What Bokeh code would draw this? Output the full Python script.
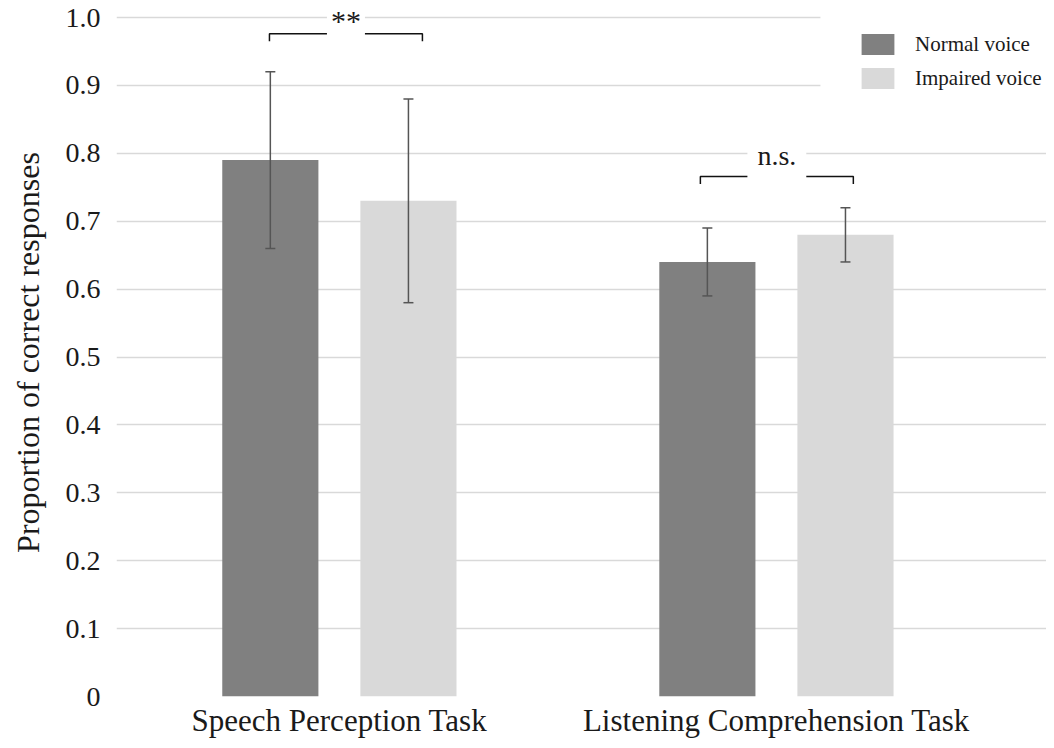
from bokeh.plotting import figure
from bokeh.models import (ColumnDataSource, Whisker, TeeHead, Legend, LegendItem,
                          Range1d, FixedTicker, Label, BoxAnnotation)
from bokeh.embed import file_html
from bokeh.resources import INLINE

# ---- data ----
categories = ["Speech Perception Task", "Listening Comprehension Task"]
series = ["Normal voice", "Impaired voice"]
normal_mean = [0.79, 0.64]
normal_lower = [0.66, 0.59]
normal_upper = [0.92, 0.69]
impaired_mean = [0.73, 0.68]
impaired_lower = [0.58, 0.64]
impaired_upper = [0.88, 0.72]
sig_labels = ["**", "n.s."]
yticks = [0, 0.1, 0.2, 0.3, 0.4, 0.5, 0.6, 0.7, 0.8, 0.9, 1.0]
ytick_labels = ["0", "0.1", "0.2", "0.3", "0.4", "0.5", "0.6", "0.7", "0.8", "0.9", "1.0"]

# ---- styles ----
FONT = "Times New Roman"
TXT = "#1a1a1a"
C_NORMAL = "#808080"
C_IMPAIRED = "#d9d9d9"
GRID = "#d9d9d9"
ERR = "#555555"
BAR_W = 0.22
OFF = 0.158

pos = list(range(len(categories)))

p = figure(width=1046, height=740, output_backend="svg", toolbar_location=None,
           x_range=Range1d(-0.51, 1.618), y_range=Range1d(0, 1.0133),
           min_border_left=116, min_border_right=0, min_border_top=8,
           min_border_bottom=44)
p.outline_line_color = None
p.background_fill_color = "white"
p.border_fill_color = "white"

src_n = ColumnDataSource(dict(x=[i - OFF for i in pos], top=normal_mean,
                              lo=normal_lower, hi=normal_upper))
src_i = ColumnDataSource(dict(x=[i + OFF for i in pos], top=impaired_mean,
                              lo=impaired_lower, hi=impaired_upper))

r_n = p.vbar(x="x", top="top", bottom=0, width=BAR_W, source=src_n,
             fill_color=C_NORMAL, line_color=None)
r_i = p.vbar(x="x", top="top", bottom=0, width=BAR_W, source=src_i,
             fill_color=C_IMPAIRED, line_color=None)

for s in (src_n, src_i):
    w = Whisker(source=s, base="x", lower="lo", upper="hi", dimension="height",
                line_color=ERR, line_width=1.5, level="annotation",
                upper_head=TeeHead(size=10, line_color=ERR, line_width=1.5),
                lower_head=TeeHead(size=10, line_color=ERR, line_width=1.5))
    p.add_layout(w)

# significance brackets
br_left = [-0.16, -0.174]
br_right = [0.19, 0.176]
br_y = [0.976, 0.766]
br_tick = 0.011
lab_y = [0.996, 0.797]
for i in pos:
    xl, xr = pos[i] + br_left[i], pos[i] + br_right[i]
    p.line([xl, xl, xr, xr], [br_y[i] - br_tick, br_y[i], br_y[i], br_y[i] - br_tick],
           line_color="#111111", line_width=1.5)
    p.add_layout(Label(x=(xl + xr) / 2, y=lab_y[i], text=sig_labels[i],
                       text_font=FONT, text_font_size="30px" if i == 0 else "28px",
                       text_color=TXT, text_align="center", text_baseline="middle",
                       background_fill_color="white", padding=10 if i else 4))

# white area behind legend
p.add_layout(BoxAnnotation(left=1.1007, bottom=0.878, fill_color="white",
                           fill_alpha=1.0, line_color=None))

legend = Legend(items=[LegendItem(label=series[0], renderers=[r_n]),
                       LegendItem(label=series[1], renderers=[r_i])],
                location=(741, 605), glyph_width=41, glyph_height=26,
                label_text_font=FONT, label_text_font_size="21px",
                label_text_color=TXT, label_standoff=17, spacing=8,
                padding=10, border_line_color=None, background_fill_alpha=0)
p.add_layout(legend)

# axes
p.xaxis.ticker = FixedTicker(ticks=pos)
p.xaxis.major_label_overrides = {i: c for i, c in zip(pos, categories)}
p.yaxis.ticker = FixedTicker(ticks=yticks)
p.yaxis.major_label_overrides = {t: l for t, l in zip(yticks, ytick_labels)}
for ax in (p.xaxis, p.yaxis):
    ax.axis_line_color = None
    ax.major_tick_line_color = None
    ax.minor_tick_line_color = None
    ax.major_tick_in = 0
    ax.major_tick_out = 0
    ax.major_label_text_font = FONT
    ax.major_label_text_color = TXT
p.xaxis.major_label_text_font_size = "31px"
p.xaxis.major_label_standoff = 6
p.yaxis.major_label_text_font_size = "28px"
p.yaxis.major_label_standoff = 16
p.yaxis.axis_label = "Proportion of correct responses"
p.yaxis.axis_label_text_font = FONT
p.yaxis.axis_label_text_font_size = "32px"
p.yaxis.axis_label_text_font_style = "normal"
p.yaxis.axis_label_text_color = TXT
p.yaxis.axis_label_standoff = 17

p.xgrid.grid_line_color = None
p.ygrid.grid_line_color = GRID
p.ygrid.grid_line_width = 1.5

open("out.html", "w").write(file_html(p, INLINE))
